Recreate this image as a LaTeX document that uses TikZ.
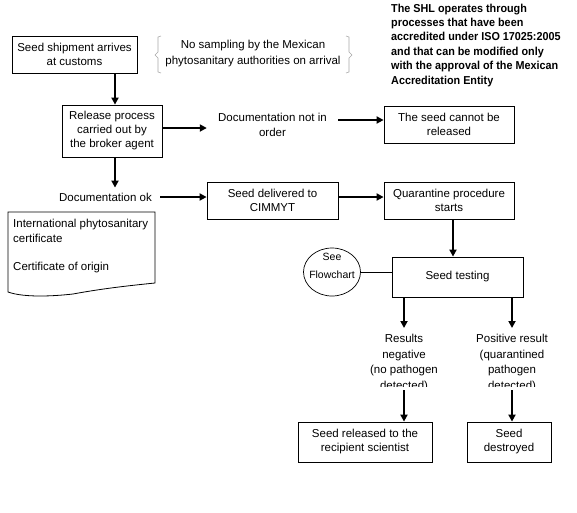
\documentclass[tikz,border=0pt]{standalone}
\usepackage{fontspec}
\setmainfont{Liberation Sans}
\newfontfamily\shlfont[FakeStretch=0.94]{Liberation Sans}
\usetikzlibrary{arrows.meta,shapes.geometric,calc}
\newcommand\myfs{\fontsize{11.5}{14}\selectfont}
\begin{document}
\begin{tikzpicture}[x=1pt,y=-1pt,
  box/.style={draw,line width=0.8pt,align=center,inner sep=0pt,font=\myfs},
  txt/.style={align=center,inner sep=0pt,font=\myfs},
  arr/.style={line width=2pt,-{Triangle[length=7pt,width=7pt]}},
  brace/.style={draw=gray!70,line width=0.6pt},
  thinline/.style={line width=0.7pt}]
\useasboundingbox (0,0) rectangle (577,512);
% nodes
\node[box,minimum width=125pt,minimum height=37pt] (ship) at (74.5,54.5) {Seed shipment arrives\\at customs};
\node[txt,font=\fontsize{11.5}{16.5}\selectfont] (nosamp) at (253,53.5) {No sampling by the Mexican\\phytosanitary authorities on arrival};
\node[anchor=north west,inner sep=0pt,align=left,font=\shlfont\fontsize{11.5}{14.4}\selectfont\bfseries] (shl) at (391,3.5) {The SHL operates through\\processes that have been\\accredited under ISO 17025:2005\\and that can be modified only\\with the approval of the Mexican\\Accreditation Entity};
\node[box,minimum width=100pt,minimum height=52pt] (release) at (112,131) {Release process\\carried out by\\the broker agent};
\node[txt,minimum width=131pt,font=\fontsize{11.5}{15}\selectfont] (notorder) at (272.5,124.5) {Documentation not in\\order};
\node[box,minimum width=130pt,minimum height=37pt] (cannot) at (449,124.5) {The seed cannot be\\released};
\node[txt] (docok) at (105.5,197) {Documentation ok};
\node[box,minimum width=131pt,minimum height=37pt] (deliv) at (272.5,200.5) {Seed delivered to\\CIMMYT};
\node[box,minimum width=130pt,minimum height=37pt] (quar) at (449,200.5) {Quarantine procedure\\starts};
\node[anchor=north west,inner sep=0pt,align=left,font=\fontsize{11.5}{15.5}\selectfont] (docs) at (13,218.5) {International phytosanitary\\certificate\\[12pt]Certificate of origin};
\node[ellipse,draw,line width=0.7pt,minimum width=57pt,minimum height=48pt,inner sep=0pt,
  label={[align=center,inner sep=0pt,yshift=6pt,font=\fontsize{10.5}{17.5}\selectfont]center:See\\Flowchart}] (see) at (332,272) {};
\node[box,minimum width=131pt,minimum height=40pt] (test) at (457.5,277) {Seed testing};
\begin{scope}
\clip (300,325) rectangle (577,386);
\node[txt,font=\fontsize{11.5}{15.5}\selectfont] (neg) at (404,363) {Results\\negative\\(no pathogen\\detected)};
\node[txt,font=\fontsize{11.5}{15.5}\selectfont] (pos) at (512,363) {Positive result\\(quarantined\\pathogen\\detected)};
\end{scope}
\node[box,minimum width=134pt,minimum height=40pt] (rel) at (365,442) {Seed released to the\\recipient scientist};
\node[box,minimum width=84pt,minimum height=40pt] (destr) at (509,442) {Seed\\destroyed};
% document shape
\draw[line width=0.8pt] (8,212) -- (155,212) -- (155,283)
  .. controls (125,286) and (100,289) .. (73,294)
  .. controls (55,296) and (25,298) .. (8,292) -- cycle;
% braces
\draw[brace] (161,36) -- (158,37) -- (158,52) -- (155,55) -- (158,58) -- (158,72) -- (161,73);
\draw[brace] (346,36) -- (349,37) -- (349,52) -- (352,55) -- (349,58) -- (349,72) -- (346,73);
% connectors
\coordinate (c1) at (115,0);
\coordinate (c2) at (453,0);
\coordinate (negtop) at (404,328);
\coordinate (postop) at (512,328);
\coordinate (negbot) at (404,390);
\coordinate (posbot) at (512,390);
\draw[arr] (ship.south -| c1) -- (release.north -| c1);
\draw[arr,shorten >=5pt] (release.south -| c1) -- (docok.north -| c1);
\draw[arr] ([yshift=3pt]release.east) -- ([yshift=-3.5pt]notorder.west);
\draw[arr] ([yshift=4.5pt]notorder.east) -- ([yshift=4.5pt]cannot.west);
\draw[arr,shorten <=8pt] (docok.east) -- (deliv.west |- docok.east);
\draw[arr] ([yshift=3.5pt]deliv.east) -- ([yshift=3.5pt]quar.west);
\draw[arr] (quar.south -| c2) -- (test.north -| c2);
\draw[thinline] (see.east) -- (see.east -| test.west);
\draw[arr] (test.south -| negtop) -- (negtop);
\draw[arr] (test.south -| postop) -- (postop);
\draw[arr] (negbot) -- (rel.north -| negbot);
\draw[arr] (posbot) -- (destr.north -| posbot);
\end{tikzpicture}
\end{document}
